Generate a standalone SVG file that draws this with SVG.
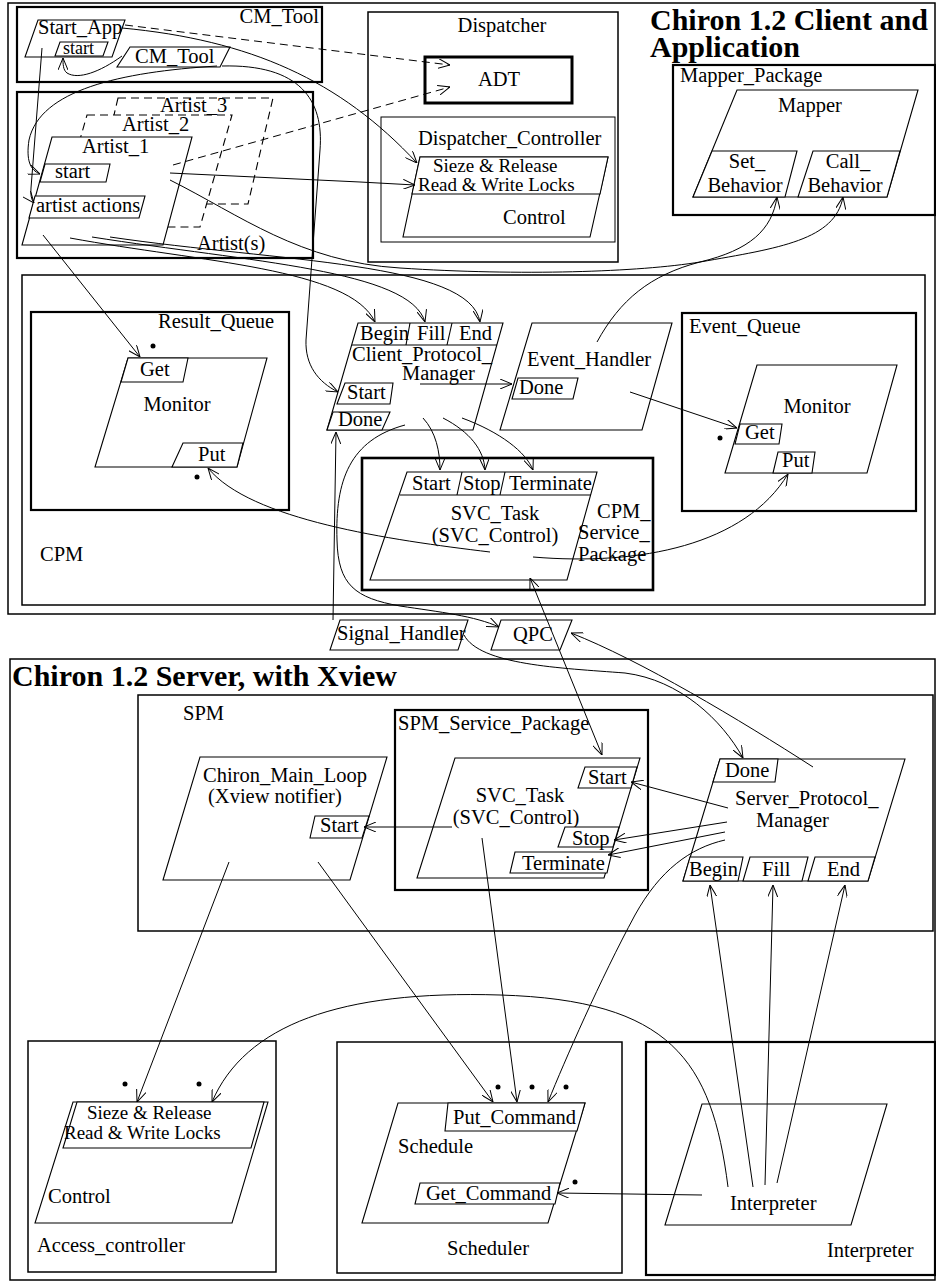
<svg xmlns="http://www.w3.org/2000/svg" width="936" height="1283" viewBox="0 0 936 1283">
<defs>
<marker id="a" viewBox="0 0 12 10" refX="12" refY="5" markerWidth="12" markerHeight="10" orient="auto-start-reverse" markerUnits="userSpaceOnUse"><path d="M0,0 L12,5 L0,10" fill="none" stroke="#000" stroke-width="1"/></marker>
<style>
.b{fill:none;stroke:#000;stroke-width:1.5}
.b2{fill:none;stroke:#000;stroke-width:2.2}
.p{fill:#fff;stroke:#000;stroke-width:1.1}
.pd{fill:#fff;stroke:#000;stroke-width:1.1;stroke-dasharray:8 5}
.t{font-family:"Liberation Serif","Times New Roman",serif;font-size:20.5px;fill:#000}
.s{font-size:19px}
.xs{font-size:18px}
.m{text-anchor:middle}
.h{font-family:"Liberation Serif","Times New Roman",serif;font-size:30px;font-weight:bold;fill:#000}
.c{fill:none;stroke:#000;stroke-width:1;marker-end:url(#a)}
.d{stroke-dasharray:8 5}
.dot{fill:#000}
</style>
</defs>
<rect width="936" height="1283" fill="#fff"/>

<g id="client-frame">
<rect class="b" x="8" y="3" width="927" height="611"/>
<text class="h" x="650" y="30">Chiron 1.2 Client and</text>
<text class="h" x="650" y="57">Application</text>
</g>

<g id="cm-tool-box">
<rect class="b2" x="17" y="7" width="305" height="75"/>
<text class="t" x="319" y="23" text-anchor="end">CM_Tool</text>
</g>
<g id="start-app">
<polygon class="p" points="38,20 125,20 112,57 25,57"/>
<text class="t" x="38" y="34">Start_App</text>
<polygon class="p" points="60,42 108,42 103,56 55,56"/>
<text class="t xs" x="63" y="54">start</text>
</g>
<g id="cm-tool">
<polygon class="p" points="130,47 230,47 220,67 117,67"/>
<text class="t" x="135" y="63">CM_Tool</text>
</g>

<g id="artists">
<rect class="b2" x="17" y="92" width="296" height="166"/>
<text class="t" x="197" y="250">Artist(s)</text>
<polygon class="pd" points="118,98 273,98 248,204 93,204"/>
<text class="t" x="160" y="112">Artist_3</text>
<polygon class="pd" points="87,115 232,115 200,227 55,227"/>
<text class="t" x="122" y="131">Artist_2</text>
<polygon class="p" points="52,137 192,137 163,245 22,245"/>
<text class="t" x="82" y="153">Artist_1</text>
<polygon class="p" points="45,164 110,164 106,182 40,182"/>
<text class="t" x="55" y="178">start</text>
<polygon class="p" points="35,196 145,196 139,218 29,218"/>
<text class="t" x="36" y="212">artist actions</text>
</g>

<g id="dispatcher">
<rect class="b" x="368" y="12" width="250" height="250"/>
<text class="t m" x="502" y="32">Dispatcher</text>
</g>
<g id="adt">
<rect fill="none" stroke="#000" stroke-width="3" x="425" y="57" width="147" height="46"/>
<text class="t m" x="499" y="86">ADT</text>
</g>
<g id="dispatcher-controller">
<rect fill="none" stroke="#000" stroke-width="1" x="381" y="117" width="234" height="125"/>
<text class="t" x="418" y="145">Dispatcher_Controller</text>
<polygon class="p" points="420,157 608,157 590,237 403,237"/>
<polygon class="p" points="420,157 608,157 600,194 412,194"/>
<text class="t s" x="433" y="172">Sieze &amp; Release</text>
<text class="t s" x="418" y="191">Read &amp; Write Locks</text>
<text class="t" x="503" y="224">Control</text>
</g>

<g id="mapper-package">
<rect class="b2" x="673" y="65" width="262" height="150"/>
<text class="t" x="680" y="82">Mapper_Package</text>
<polygon class="p" points="737,90 918,90 887,197 693,197"/>
<text class="t m" x="810" y="112">Mapper</text>
<polygon class="p" points="712,151 797,151 785,197 693,197"/>
<text class="t m" x="747" y="168">Set_</text>
<text class="t m" x="745" y="192">Behavior</text>
<polygon class="p" points="813,151 900,151 887,197 798,197"/>
<text class="t m" x="848" y="168">Call_</text>
<text class="t m" x="845" y="192">Behavior</text>
</g>

<g id="cpm">
<rect class="b" x="22" y="275" width="903" height="330"/>
<text class="t" x="40" y="561">CPM</text>
</g>

<g id="result-queue">
<rect class="b2" x="31" y="312" width="258" height="198"/>
<text class="t" x="158" y="328">Result_Queue</text>
<polygon class="p" points="128,358 267,358 237,467 95,467"/>
<polygon class="p" points="128,358 188,358 183,382 121,382"/>
<text class="t" x="140" y="376">Get</text>
<text class="t m" x="177" y="411">Monitor</text>
<polygon class="p" points="183,443 243,443 237,467 172,467"/>
<text class="t" x="198" y="461">Put</text>
<circle class="dot" cx="153" cy="346" r="2.5"/>
<circle class="dot" cx="197" cy="477" r="2.5"/>
</g>

<g id="client-protocol-manager">
<polygon class="p" points="358,323 503,323 473,430 327,430"/>
<polyline fill="none" stroke="#000" stroke-width="1.1" points="352,345 497,345"/>
<line x1="410" y1="323" x2="406" y2="345" stroke="#000" stroke-width="1.1"/>
<line x1="452" y1="323" x2="447" y2="345" stroke="#000" stroke-width="1.1"/>
<text class="t" x="360" y="340">Begin</text>
<text class="t" x="417" y="340">Fill</text>
<text class="t" x="459" y="340">End</text>
<text class="t" x="352" y="361">Client_Protocol_</text>
<text class="t" x="402" y="380">Manager</text>
<polygon class="p" points="345,383 393,383 390,404 337,404"/>
<text class="t" x="347" y="399">Start</text>
<polygon class="p" points="333,412 390,412 382,430 327,430"/>
<text class="t" x="338" y="426">Done</text>
</g>

<g id="event-handler">
<polygon class="p" points="532,323 672,323 642,430 500,430"/>
<text class="t" x="527" y="366">Event_Handler</text>
<polygon class="p" points="518,378 578,378 573,399 512,399"/>
<text class="t" x="519" y="394">Done</text>
</g>

<g id="event-queue">
<rect class="b2" x="682" y="313" width="234" height="198"/>
<text class="t" x="689" y="333">Event_Queue</text>
<polygon class="p" points="757,365 897,365 867,473 725,473"/>
<text class="t m" x="817" y="413">Monitor</text>
<polygon class="p" points="740,424 782,424 779,444 735,444"/>
<text class="t" x="745" y="439">Get</text>
<polygon class="p" points="778,452 815,452 812,473 773,473"/>
<text class="t" x="782" y="467">Put</text>
<circle class="dot" cx="720" cy="438" r="2.5"/>
</g>

<g id="cpm-service-package">
<rect fill="none" stroke="#000" stroke-width="2.6" x="362" y="458" width="291" height="132"/>
<polygon class="p" points="407,472 597,472 567,580 370,580"/>
<line x1="400" y1="495" x2="591" y2="495" stroke="#000" stroke-width="1.1"/>
<line x1="462" y1="472" x2="457" y2="495" stroke="#000" stroke-width="1.1"/>
<line x1="505" y1="472" x2="500" y2="495" stroke="#000" stroke-width="1.1"/>
<text class="t" x="412" y="490">Start</text>
<text class="t" x="463" y="490">Stop</text>
<text class="t" x="509" y="490">Terminate</text>
<text class="t m" x="495" y="520">SVC_Task</text>
<text class="t m" x="495" y="542">(SVC_Control)</text>
<text class="t" x="597" y="518">CPM_</text>
<text class="t" x="578" y="539">Service_</text>
<text class="t" x="578" y="561">Package</text>
</g>

<g id="signal-handler">
<polygon class="p" points="340,620 468,620 458,650 330,650"/>
<text class="t" x="337" y="640">Signal_Handler</text>
</g>
<g id="qpc">
<polygon class="p" points="501,620 572,620 560,650 491,650"/>
<text class="t" x="513" y="641">QPC</text>
</g>

<g id="server-frame">
<rect class="b" x="10" y="659" width="925" height="621"/>
<text class="h" x="12" y="686">Chiron 1.2 Server, with Xview</text>
</g>

<g id="spm">
<rect class="b" x="138" y="695" width="795" height="236"/>
<text class="t" x="183" y="720">SPM</text>
</g>

<g id="chiron-main-loop">
<polygon class="p" points="200,757 387,757 350,880 163,880"/>
<text class="t" x="203" y="782">Chiron_Main_Loop</text>
<text class="t" x="208" y="803">(Xview notifier)</text>
<polygon class="p" points="315,816 369,816 362,838 310,838"/>
<text class="t" x="320" y="832">Start</text>
</g>

<g id="spm-service-package">
<rect class="b2" x="395" y="710" width="253" height="180"/>
<text class="t" x="398" y="730">SPM_Service_Package</text>
<polygon class="p" points="455,758 640,758 604,878 417,878"/>
<text class="t m" x="520" y="802">SVC_Task</text>
<text class="t m" x="516" y="824">(SVC_Control)</text>
<polygon class="p" points="585,767 637,767 631,788 578,788"/>
<text class="t" x="588" y="784">Start</text>
<polygon class="p" points="565,827 619,827 613,847 558,847"/>
<text class="t" x="572" y="845">Stop</text>
<polygon class="p" points="515,852 612,852 607,873 510,873"/>
<text class="t" x="522" y="870">Terminate</text>
</g>

<g id="server-protocol-manager">
<polygon class="p" points="720,759 905,759 868,881 683,881"/>
<polygon class="p" points="720,759 778,759 775,782 713,782"/>
<text class="t" x="725" y="777">Done</text>
<text class="t" x="735" y="805">Server_Protocol_</text>
<text class="t" x="756" y="827">Manager</text>
<polygon class="p" points="690,857 743,857 738,881 683,881"/>
<polygon class="p" points="750,857 808,857 802,881 743,881"/>
<polygon class="p" points="815,857 875,857 868,881 808,881"/>
<text class="t" x="689" y="876">Begin</text>
<text class="t" x="762" y="876">Fill</text>
<text class="t" x="827" y="876">End</text>
</g>

<g id="access-controller">
<rect class="b" x="28" y="1041" width="248" height="231"/>
<polygon class="p" points="73,1102 268,1102 232,1223 35,1223"/>
<polygon class="p" points="77,1102 264,1102 251,1148 63,1148"/>
<text class="t s" x="87" y="1119">Sieze &amp; Release</text>
<text class="t s" x="64" y="1139">Read &amp; Write Locks</text>
<text class="t" x="48" y="1203">Control</text>
<text class="t" x="37" y="1252">Access_controller</text>
<circle class="dot" cx="125" cy="1084" r="2.5"/>
<circle class="dot" cx="199" cy="1084" r="2.5"/>
</g>

<g id="scheduler">
<rect class="b" x="337" y="1042" width="285" height="231"/>
<polygon class="p" points="398,1103 585,1103 548,1223 362,1223"/>
<polygon class="p" points="448,1103 585,1103 577,1131 445,1131"/>
<text class="t" x="453" y="1124">Put_Command</text>
<text class="t" x="398" y="1153">Schedule</text>
<polygon class="p" points="420,1183 560,1183 555,1204 415,1204"/>
<text class="t" x="426" y="1200">Get_Command</text>
<text class="t m" x="488" y="1255">Scheduler</text>
<circle class="dot" cx="498" cy="1087" r="2.5"/>
<circle class="dot" cx="532" cy="1087" r="2.5"/>
<circle class="dot" cx="566" cy="1087" r="2.5"/>
<circle class="dot" cx="575" cy="1182" r="2.5"/>
</g>

<g id="interpreter">
<rect class="b2" x="646" y="1042" width="289" height="233"/>
<polygon class="p" points="702,1104 887,1104 851,1225 665,1225"/>
<text class="t" x="730" y="1210">Interpreter</text>
<text class="t" x="827" y="1257">Interpreter</text>
</g>

<g id="connectors">
<path class="c" d="M122,56 C100,72 78,80 67,73 C63,70 63,64 63,58"/>
<path class="c" d="M217,66 C120,72 40,90 29,140 C26,160 30,170 40,174"/>
<path class="c" d="M222,66 C300,64 324,100 320,150 L306,340 C305,365 318,382 338,392"/>
<path class="c" d="M42,48 L31,188 Q30,198 34,203"/>
<path class="c d" d="M125,25 L450,65"/>
<path class="c" d="M122,28 C250,40 340,80 417,163"/>
<path class="c d" d="M173,165 L450,87"/>
<path class="c" d="M170,173 L360,182 L415,185"/>
<path class="c" d="M170,180 C240,215 300,262 400,268 C520,276 640,272 700,262 C780,248 835,240 843,197"/>
<path class="c" d="M43,235 L140,357"/>
<path class="c" d="M70,238 C200,262 350,268 375,322"/>
<path class="c" d="M92,237 C250,262 410,270 425,322"/>
<path class="c" d="M110,237 C280,262 470,262 480,322"/>
<path class="c" d="M597,342 C620,300 650,275 700,262 C750,250 772,230 777,197"/>
<path class="c" d="M420,384 L512,384"/>
<path class="c" d="M630,392 L737,428"/>
<path class="c" d="M423,418 C436,432 440,452 440,470"/>
<path class="c" d="M443,418 C470,432 484,450 485,470"/>
<path class="c" d="M462,418 C500,432 526,452 533,470"/>
<path class="c" d="M490,552 C390,540 250,520 208,468"/>
<path class="c" d="M533,557 C640,566 745,545 788,474"/>
<path class="c" d="M333,620 L336,432"/>
<path class="c" d="M405,425 C350,440 335,480 337,540 C338,585 355,598 400,606 C440,612 475,616 499,627"/>
<path class="c" style="marker-start:url(#a)" d="M530,578 L602,755"/>
<path class="c" d="M813,767 C740,720 640,660 571,633"/>
<path class="c" d="M464,635 C480,665 560,668 625,673 C680,680 722,720 743,758"/>
<path class="c" d="M452,827 L364,827"/>
<path class="c" d="M728,808 L631,782"/>
<path class="c" d="M727,822 L614,840"/>
<path class="c" d="M725,832 L608,855"/>
<path class="c" d="M725,840 C690,848 660,870 635,915 C600,980 565,1060 548,1102"/>
<path class="c" d="M482,838 L517,1102"/>
<path class="c" d="M229,862 L137,1102"/>
<path class="c" d="M318,862 L493,1102"/>
<path class="c" d="M753,1187 L710,885"/>
<path class="c" d="M765,1185 L773,885"/>
<path class="c" d="M777,1183 L845,885"/>
<path class="c" d="M728,1187 C712,1060 670,1000 500,995 C340,990 245,1025 212,1102"/>
<path class="c" d="M702,1195 L557,1193"/>
</g>
</svg>
